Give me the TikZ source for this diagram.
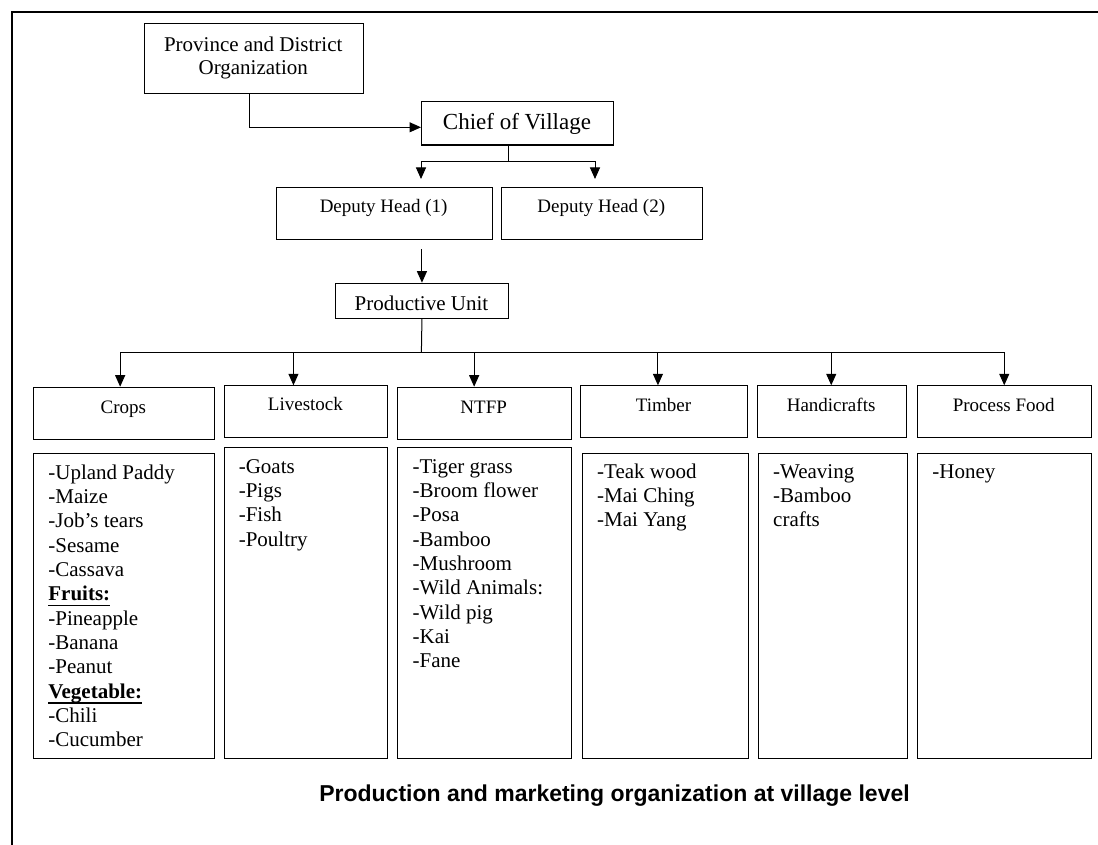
\documentclass[tikz,border=0pt]{standalone}
\usepackage{fontspec}
\setmainfont{Liberation Serif}
\newfontfamily\capfont{Liberation Sans}
\usetikzlibrary{arrows.meta}

% bold heading with a Word-style underline at fixed depth
\newcommand\ulbold[1]{\leavevmode\setbox0\hbox{\textbf{#1}}\rlap{\rule[-5.6pt]{\wd0}{1.8pt}}\box0}
% top-aligned list of items, baseline = first line
\newcommand\itemlist[1]{\parbox[t]{150pt}{\raggedright\fontsize{21}{24.3}\selectfont #1}}

\tikzset{
  box/.style={draw, line width=1.1pt, inner sep=0pt, anchor=north west},
  link/.style={line width=1pt},
  arr/.style={line width=1pt, -{Triangle[length=11.5pt,width=10pt]}},
  hdrtext/.style={anchor=base, inner sep=0pt, font=\fontsize{19}{22}\selectfont},
  listtext/.style={anchor=base west, inner sep=0pt},
}

\begin{document}
\begin{tikzpicture}[x=1pt, y=-1pt]
\useasboundingbox (0,0) rectangle (1098,845);
\fill[white] (0,0) rectangle (1098,845);

% outer frame (right and bottom sides lie beyond the page)
\draw[line width=2pt] (11.5,12.5) rectangle (1120,870);

% upper hierarchy
\node[box, minimum width=218.5pt, minimum height=69.4pt] (prov) at (144,23.3) {};
\node[anchor=base, inner sep=0pt] (provT) at (253.25,51.7)
  {\parbox[t]{210pt}{\centering\fontsize{21}{23.3}\selectfont Province and District\\Organization}};

\node[box, minimum width=192pt, minimum height=43.5pt] (chief) at (421,101) {};
\node[anchor=base, inner sep=0pt, font=\fontsize{23}{26}\selectfont] (chiefT) at (517,130) {Chief of Village};

\node[box, minimum width=216.2pt, minimum height=52pt] (dep1) at (275.5,187) {};
\node[hdrtext] (dep1T) at (383.6,213) {Deputy Head (1)};
\node[box, minimum width=201.3pt, minimum height=52pt] (dep2) at (500.7,187) {};
\node[hdrtext] (dep2T) at (601.3,213) {Deputy Head (2)};

\node[box, minimum width=173.8pt, minimum height=34.8pt] (pu) at (334.5,282.7) {};
\node[anchor=base, inner sep=0pt, font=\fontsize{21}{24}\selectfont] (puT) at (421.4,310) {Productive Unit};

% category headers
\node[box, minimum width=180.7pt, minimum height=52pt] (crops)  at (32.9,386.7) {};
\node[box, minimum width=163.5pt, minimum height=52pt] (live)   at (223.6,385.3) {};
\node[box, minimum width=173.8pt, minimum height=52pt] (ntfp)   at (396.8,386.7) {};
\node[box, minimum width=166.6pt, minimum height=52pt] (timber) at (580.2,385.3) {};
\node[box, minimum width=148.8pt, minimum height=52pt] (handi)  at (756.7,385.3) {};
\node[box, minimum width=173.6pt, minimum height=52pt] (pf)     at (916.9,385.3) {};

\node[hdrtext] at (123.3,413.3) {Crops};
\node[hdrtext] at (305.4,410.7) {Livestock};
\node[hdrtext] at (483.7,413.3) {NTFP};
\node[hdrtext] at (663.5,411) {Timber};
\node[hdrtext] at (831.1,411) {Handicrafts};
\node[hdrtext] at (1003.7,411) {Process Food};

% item lists
\node[box, minimum width=180.7pt, minimum height=305.3pt] (cropsL)  at (32.9,453) {};
\node[box, minimum width=163.5pt, minimum height=311.6pt] (liveL)   at (223.6,446.7) {};
\node[box, minimum width=173.8pt, minimum height=311.6pt] (ntfpL)   at (396.8,446.7) {};
\node[box, minimum width=166.6pt, minimum height=305pt]   (timberL) at (581.6,453.3) {};
\node[box, minimum width=148.8pt, minimum height=305pt]   (handiL)  at (758.1,453.3) {};
\node[box, minimum width=173.6pt, minimum height=305pt]   (pfL)     at (916.9,453.3) {};

\node[listtext] at (48.2,479.3) {\itemlist{-Upland Paddy\\-Maize\\-Job’s tears\\-Sesame\\-Cassava\\
  \ulbold{Fruits:}\\-Pineapple\\-Banana\\-Peanut\\\ulbold{Vegetable:}\\-Chili\\-Cucumber}};
\node[listtext] at (238.6,473.3) {\itemlist{-Goats\\-Pigs\\-Fish\\-Poultry}};
\node[listtext] at (412.5,473.3) {\itemlist{-Tiger grass\\-Broom flower\\-Posa\\-Bamboo\\-Mushroom\\
  -Wild Animals:\\-Wild pig\\-Kai\\-Fane}};
\node[listtext] at (597,478.3) {\itemlist{-Teak wood\\-Mai Ching\\-Mai Yang}};
\node[listtext] at (773,478.3) {\itemlist{-Weaving\\-Bamboo\\crafts}};
\node[listtext] at (932.2,478.3) {\itemlist{-Honey}};

% caption
\node[anchor=base, inner sep=0pt, font=\capfont\bfseries\fontsize{23}{27}\selectfont] (caption) at (614.5,801.5)
  {Production and marketing organization at village level};

% connectors
\draw[arr] ([xshift=-4.75pt]prov.south) |- ([yshift=-4pt]chief.west);

\coordinate (cs) at (508,161.7);
\coordinate (d1in) at (421,179);
\coordinate (d2in) at (595,179);
\draw[link] (chief.south -| cs) -- (cs);
\draw[arr] (cs) -| (d1in);
\draw[arr] (cs) -| (d2in);

\draw[arr] ([yshift=-9pt]dep1.south -| pu.north) -- (pu.north);

\coordinate (bus) at (421.4,352);
\coordinate (aCrops)  at ([xshift=-3.65pt]crops.north);
\coordinate (aLive)   at ([xshift=-12.45pt]live.north);
\coordinate (aNtfp)   at ([xshift=-10.1pt]ntfp.north);
\coordinate (aTimber) at ([xshift=-6.1pt]timber.north);
\coordinate (aHandi)  at ([xshift=-0.4pt]handi.north);
\coordinate (aPf)     at (pf.north);

\draw[link] (pu.south) -- (bus);
\draw[link] (aCrops |- bus) -- (aPf |- bus);
\foreach \t in {aCrops,aLive,aNtfp,aTimber,aHandi,aPf}
  \draw[arr] (\t |- bus) -- (\t);
\end{tikzpicture}
\end{document}
